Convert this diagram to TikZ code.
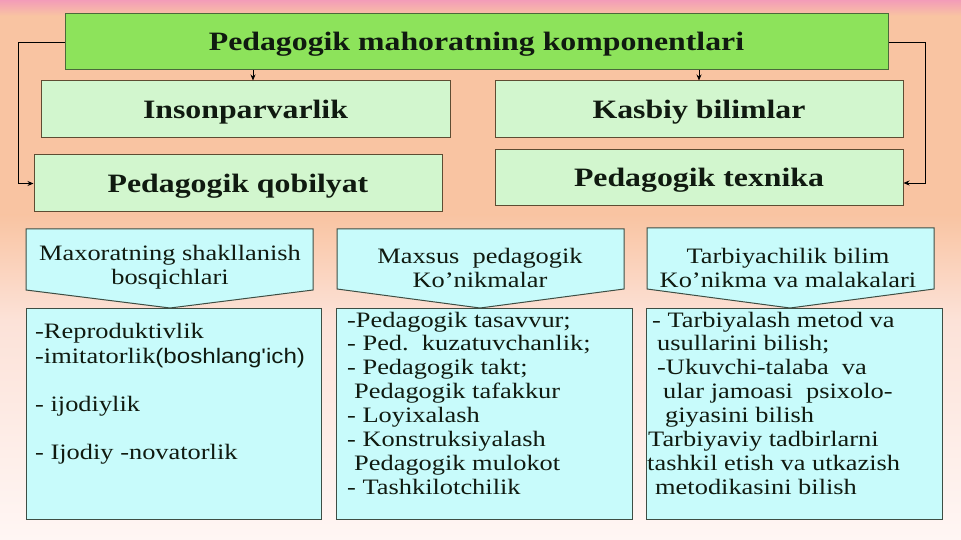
\documentclass[tikz,border=0pt]{standalone}
\usepackage{fontspec}
\setmainfont{Liberation Serif}
\newfontfamily\hfont[FakeStretch=1.2]{Liberation Serif}
\newfontfamily\sfont[FakeStretch=1.15]{Liberation Sans}
\usetikzlibrary{arrows.meta}
\definecolor{bgpink}{HTML}{F39CB8}
\definecolor{bgpeach}{HTML}{F9C4A2}
\definecolor{bglight}{HTML}{FCE2D8}
\definecolor{bgwhite}{HTML}{FFF6F4}
\definecolor{topfill}{HTML}{8DE35B}
\definecolor{topdraw}{HTML}{4A6A3A}
\definecolor{midfill}{HTML}{D2F6CE}
\definecolor{middraw}{HTML}{5E4C32}
\definecolor{cyanfill}{HTML}{C8FBFB}
\definecolor{cyandraw}{HTML}{3E4E44}
\definecolor{ink}{HTML}{101A10}
\begin{document}
\begin{tikzpicture}[x=1pt,y=-1pt,
  topbox/.style={draw=topdraw, line width=1pt, fill=topfill, inner sep=0pt,
    minimum width=823pt, minimum height=56pt, text=ink,
    text height=17.5pt, text depth=0pt,
    font=\hfont\bfseries\fontsize{26.5}{30}\selectfont},
  midbox/.style={draw=middraw, line width=1pt, fill=midfill, inner sep=0pt,
    minimum width=408pt, minimum height=57pt, text=ink,
    text height=17.5pt, text depth=0pt,
    font=\hfont\bfseries\fontsize{26.5}{30}\selectfont},
  contentbox/.style={draw=cyandraw, line width=1pt, fill=cyanfill, inner sep=0pt},
  calloutshape/.style={draw=cyandraw, line width=1pt, fill=cyanfill},
  calltext/.style={align=center, inner sep=0pt, text=ink,
    font=\hfont\fontsize{22}{24}\selectfont},
  listtext/.style={anchor=base west, inner sep=0pt, text=ink,
    font=\hfont\fontsize{22}{23.9}\selectfont},
  arr/.style={draw=black, line width=0.8pt, -{Stealth[length=6pt,width=5pt]}}
]
\useasboundingbox (0,0) rectangle (961,540);
% background
\shade[top color=bgpink, bottom color=bgpeach] (0,0) rectangle (961,16);
\fill[bgpeach] (0,16) rectangle (961,215);
\shade[top color=bgpeach, bottom color=bglight] (0,215) rectangle (961,320);
\shade[top color=bglight, bottom color=bgwhite] (0,320) rectangle (961,540);

% top level
\node[topbox] (top) at (476.5,42) {Pedagogik mahoratning komponentlari};
\node[midbox, minimum width=409pt] (ins) at (245.5,109.5) {Insonparvarlik};
\node[midbox] (kas) at (699,109.5) {Kasbiy bilimlar};
\node[midbox] (qob) at (238,183.5) {Pedagogik qobilyat};
\node[midbox, minimum height=56pt] (tex) at (699,178) {Pedagogik texnika};

\coordinate (ax) at (253,0);
\draw[arr] (top.south -| ax) -- (ins.north -| ax);
\draw[arr] (top.south -| kas.north) -- (kas.north);
\draw[arr] (top.west) -- ++(-46,0) |- (qob.west);
\draw[arr] (top.east) -- ++(37,0) |- ([yshift=-5pt]tex.east);

% content boxes
\node[contentbox, minimum width=295pt, minimum height=211pt] (b1) at (173.5,413.5) {};
\node[contentbox, minimum width=296pt, minimum height=211pt] (b2) at (484,413.5) {};
\node[contentbox, minimum width=296pt, minimum height=211pt] (b3) at (794,413.5) {};

% callouts
\draw[calloutshape] (26,229) -- (313,229) -- (313,290) -- (170,308) -- (26,290) -- cycle;
\draw[calloutshape] (337,229) -- (624,229) -- (624,289) -- (480,308) -- (337,289) -- cycle;
\draw[calloutshape] (647,228) -- (934,228) -- (934,289) -- (790,308) -- (647,289) -- cycle;

\node[calltext] (c1) at (170,267.5) {Maxoratning shakllanish\\bosqichlari};
\node[calltext] (c2) at (480,267.5) {Maxsus\ \ pedagogik\\Ko’nikmalar};
\node[calltext] (c3) at (788,267.5) {Tarbiyachilik bilim\\Ko’nikma va malakalari};

% lists
\node[listtext] (t1) at (35,338) {\parbox[t]{285pt}{\raggedright
-Reproduktivlik\\[2pt]
-imitatorlik{\sfont\fontsize{21}{23.9}\selectfont(boshlang'ich)}\\
\mbox{}\\
- ijodiylik\\
\mbox{}\\
- Ijodiy -novatorlik}};
\node[listtext] (t2) at (347,327) {\parbox[t]{285pt}{\raggedright
-Pedagogik tasavvur;\\
- Ped.\ \ kuzatuvchanlik;\\
- Pedagogik takt;\\
\hspace*{7pt}Pedagogik tafakkur\\
- Loyixalash\\
- Konstruksiyalash\\
\hspace*{7pt}Pedagogik mulokot\\
- Tashkilotchilik}};
\node[listtext] (t3) at (647,327) {\parbox[t]{292pt}{\raggedright
\hspace*{5pt}- Tarbiyalash metod va\\
\hspace*{10pt}usullarini bilish;\\
\hspace*{10pt}-Ukuvchi-talaba\ \ va\\
\hspace*{16pt}ular jamoasi\ \ psixolo-\\
\hspace*{18pt}giyasini bilish\\
\hspace*{1pt}Tarbiyaviy tadbirlarni\\
tashkil etish va utkazish\\
\hspace*{8pt}metodikasini bilish}};
\end{tikzpicture}
\end{document}
